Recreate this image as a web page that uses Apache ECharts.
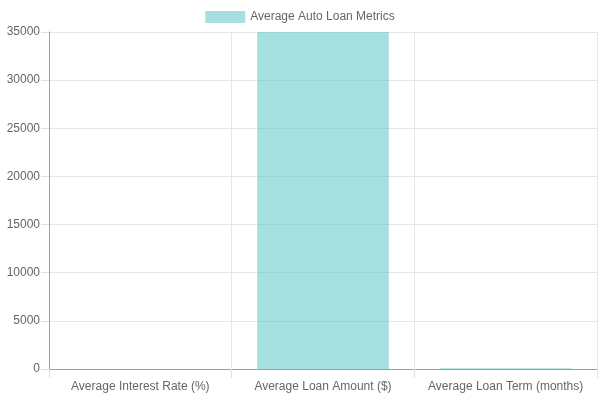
<!DOCTYPE html>
<html>
<head>
<meta charset="utf-8">
<script src="https://cdn.jsdelivr.net/npm/echarts@6/dist/echarts.min.js"></script>
<style>
  html, body { margin: 0; padding: 0; background: #fff; }
  #main { width: 600px; height: 400px; }
</style>
</head>
<body>
<div id="main"></div>
<script>
var categories = ['Average Interest Rate (%)', 'Average Loan Amount ($)', 'Average Loan Term (months)'];
var seriesName = 'Average Auto Loan Metrics';
var values = [5.2, 35000, 72];

var myChart = echarts.init(document.getElementById('main'));
myChart.setOption({
    animation: false,
    textStyle: { fontFamily: 'Liberation Sans, Arial, sans-serif' },
    legend: {
        data: [{ name: seriesName, icon: 'rect' }],
        top: 6,
        left: 'center',
        itemWidth: 40,
        itemHeight: 12,
        itemGap: 10,
        textStyle: { color: '#666', fontSize: 12 }
    },
    grid: { left: 49, right: 3, top: 32, bottom: 31, containLabel: false },
    xAxis: {
        type: 'category',
        data: categories,
        axisLine: { show: true, lineStyle: { color: '#9e9e9e' } },
        axisTick: { show: true, interval: 0, length: 9, lineStyle: { color: '#e0e0e0' } },
        axisLabel: { color: '#666', fontSize: 12, margin: 12, interval: 0 },
        splitLine: { show: true, interval: 0, lineStyle: { color: '#e6e6e6' } }
    },
    yAxis: {
        type: 'value',
        min: 0,
        max: 35000,
        interval: 5000,
        axisLine: { show: true, lineStyle: { color: '#9e9e9e' } },
        axisTick: { show: true, length: 8, lineStyle: { color: '#e0e0e0' } },
        axisLabel: { color: '#666', fontSize: 12, margin: 9, formatter: function (v) { return String(v); } },
        splitLine: { show: true, lineStyle: { color: '#e6e6e6' } }
    },
    series: [{
        name: seriesName,
        type: 'bar',
        data: values,
        barCategoryGap: '28%',
        itemStyle: {
            color: 'rgba(75, 192, 192, 0.5)',
            borderWidth: 0
        }
    }]
});
</script>
</body>
</html>
